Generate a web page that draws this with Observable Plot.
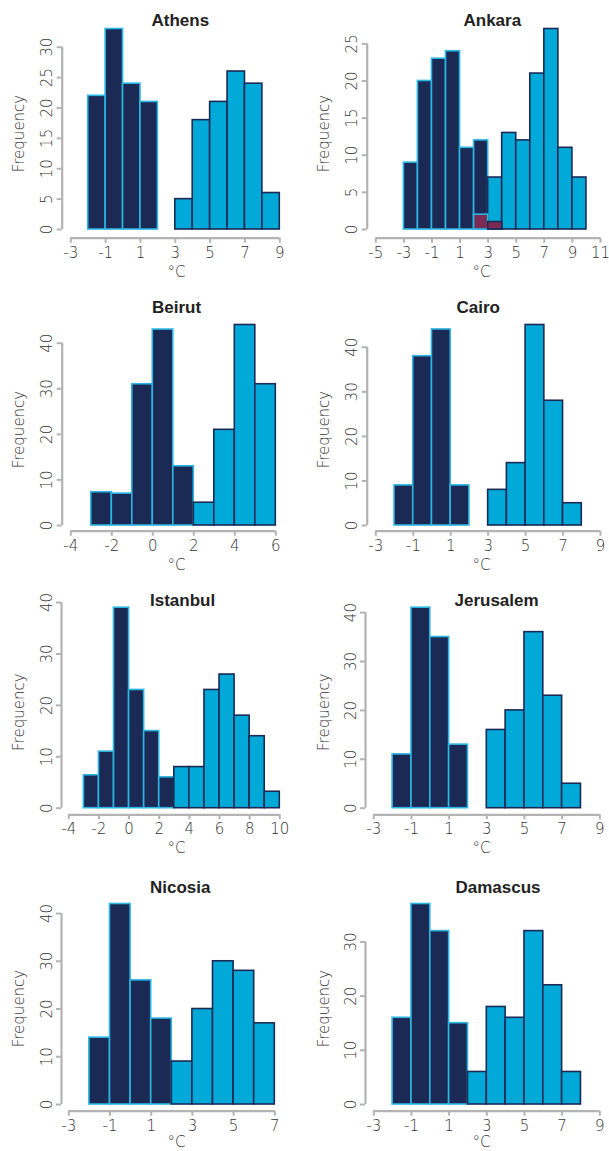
<!DOCTYPE html>
<html><head><meta charset="utf-8">
<script src="https://cdn.jsdelivr.net/npm/d3@7"></script>
<script src="https://cdn.jsdelivr.net/npm/@observablehq/plot@0.6"></script>
<style>
body{margin:0;background:#fff;}
#wrap{position:relative;width:609px;height:1151px;overflow:hidden;background:#fff;}
#wrap svg{position:absolute;overflow:hidden;}
</style></head><body><div id="wrap"></div>
<script>
// ---- data ----
const cities = ["Athens","Ankara","Beirut","Cairo","Istanbul","Jerusalem","Nicosia","Damascus"];
const darkStarts = [-2,-3,-3,-2,-3,-2,-2,-2];
const lightStarts = [3,3,2,3,3,3,2,2];
const athensDark = [22,33,24,21];
const athensLight = [5,18,21,26,24,6];
const ankaraDark = [9,20,23,24,11,12];
const ankaraLight = [7,13,12,21,27,11,7];
const ankaraOverlapStart = 2;
const ankaraOverlap = [2,1];
const beirutDark = [7.3,7,31,43,13];
const beirutLight = [5,21,44,31];
const cairoDark = [9,38,44,9];
const cairoLight = [8,14,45,28,5];
const istanbulDark = [6.4,11,39,23,15,6];
const istanbulLight = [8,8,23,26,18,14,3.2];
const jerusalemDark = [11,41,35,13];
const jerusalemLight = [16,20,36,23,5];
const nicosiaDark = [14,42,26,18];
const nicosiaLight = [9,20,30,28,17];
const damascusDark = [16,37,32,15];
const damascusLight = [6,18,16,32,22,6];
const darkCounts = [athensDark,ankaraDark,beirutDark,cairoDark,istanbulDark,jerusalemDark,nicosiaDark,damascusDark];
const lightCounts = [athensLight,ankaraLight,beirutLight,cairoLight,istanbulLight,jerusalemLight,nicosiaLight,damascusLight];
const xTicks = [
  [-3,-1,1,3,5,7,9],
  [-5,-3,-1,1,3,5,7,9,11],
  [-4,-2,0,2,4,6],
  [-3,-1,1,3,5,7,9],
  [-4,-2,0,2,4,6,8,10],
  [-3,-1,1,3,5,7,9],
  [-3,-1,1,3,5,7],
  [-3,-1,1,3,5,7,9]
];
const yTicks = [
  [0,5,10,15,20,25,30],
  [0,5,10,15,20,25],
  [0,10,20,30,40],
  [0,10,20,30,40],
  [0,10,20,30,40],
  [0,10,20,30,40],
  [0,10,20,30,40],
  [0,10,20,30]
];
const xLabel = "°C";
const yLabel = "Frequency";

// ---- layout (pixels, local to each panel) ----
const rowTop = [0,290,575,860];
const rowH = [290,285,285,291];
const baseY = [229,235,232.7,244];
const axisY = [237.7,240.7,239.3,250.7];
const xLabelOff = [39,39,38,35.5];
const titleBase = [25,22.7,30,32.7];
const axisLeft = [61.7,61.7,61.7,61.7,61,60,61,60];
const xTickPx = [[70.3,279.3],[70.3,295],[70.3,275.3],[70.3,295],[68.3,279.3],[68.3,294.3],[68.3,274.3],[68.3,294.3]];
const titleLeft = [151,158,151.5,151,149.5,149,149.5,150];
const barTopGap = 200.5;

// ---- styles ----
const NAVY = "#1b2a55", CYAN = "#2bb5e3", BLUE = "#00a9d7", MAROON = "#7b2a54", GRAY = "#b3b3b3", TEXT = "#333333";
const FONT = "'DejaVu Sans', Verdana, sans-serif";

const bins = (start, counts) => counts.map((c, i) => ({x1: start + i, x2: start + i + 1, count: c}));

const wrap = document.getElementById("wrap");
cities.forEach((city, i) => {
  const r = Math.floor(i / 2), col = i % 2;
  const H = rowH[r], y0 = baseY[r], ax = axisY[r];
  const W = col ? 304 : 305;
  const dark = bins(darkStarts[i], darkCounts[i]);
  const light = bins(lightStarts[i], lightCounts[i]);
  const M = d3.max([...darkCounts[i], ...lightCounts[i]]);
  const xt = xTicks[i], yt = yTicks[i];
  const a = xt[0], b = xt[xt.length - 1];
  const [px1, px2] = xTickPx[i];
  const aL = axisLeft[i];
  const marks = [
    Plot.rect(dark, {x1: "x1", x2: "x2", y1: 0, y2: "count", fill: NAVY, stroke: CYAN, strokeWidth: 1.6}),
    Plot.rect(light, {x1: "x1", x2: "x2", y1: 0, y2: "count", fill: BLUE, stroke: NAVY, strokeWidth: 1.6})
  ];
  if (city === "Ankara") {
    const ov = bins(ankaraOverlapStart, ankaraOverlap);
    marks.push(Plot.rect(ov.filter(d => d.x1 < lightStarts[i]), {x1: "x1", x2: "x2", y1: 0, y2: "count", fill: MAROON, stroke: CYAN, strokeWidth: 1.6}));
    marks.push(Plot.rect(ov.filter(d => d.x1 >= lightStarts[i]), {x1: "x1", x2: "x2", y1: 0, y2: "count", fill: MAROON, stroke: NAVY, strokeWidth: 1.6}));
  }
  marks.push(
    Plot.ruleY([0], {x1: a, x2: b, dy: ax - y0, stroke: GRAY, strokeWidth: 2.2}),
    Plot.ruleX([a], {y1: 0, y2: yt[yt.length - 1], dx: aL - px1, stroke: GRAY, strokeWidth: 2.2}),
    Plot.axisX({ticks: xt, anchor: "bottom", tickSize: 5, tickPadding: 4, tickFormat: d => String(d), stroke: GRAY, strokeWidth: 2, fill: TEXT, label: null}),
    Plot.axisY({ticks: yt, anchor: "left", tickSize: 5, tickPadding: 5, tickRotate: -90, tickFormat: d => String(d), stroke: GRAY, strokeWidth: 2, fill: TEXT, label: null}),
    Plot.text([city], {text: d => d, frameAnchor: "top-left", dx: titleLeft[i] - aL, dy: titleBase[r], textAnchor: "start", lineAnchor: "bottom", fontWeight: "bold", fontSize: 17, fontFamily: "'Liberation Sans', Arial, sans-serif", fill: "#222"}),
    Plot.text([yLabel], {text: d => d, frameAnchor: "top-left", dx: 19 - aL, dy: y0 - 96, rotate: -90, textAnchor: "middle", lineAnchor: "middle", fill: TEXT}),
    Plot.text([xLabel], {text: d => d, frameAnchor: "top-left", dx: 176 - aL, dy: ax + xLabelOff[r], textAnchor: "middle", lineAnchor: "bottom", fill: TEXT})
  );
  const svg = Plot.plot({
    width: W, height: H,
    marginLeft: aL, marginRight: 0, marginTop: 0, marginBottom: H - ax,
    x: {domain: [a, b], range: [px1, px2], label: null},
    y: {domain: [0, M], range: [y0, y0 - barTopGap], label: null},
    style: {fontFamily: FONT, fontSize: "15px", fontWeight: 300, color: TEXT, background: "transparent", overflow: "hidden"},
    marks
  });
  svg.style.left = (col ? 305 : 0) + "px";
  svg.style.top = rowTop[r] + "px";
  wrap.appendChild(svg);
});
</script>
</body></html>
